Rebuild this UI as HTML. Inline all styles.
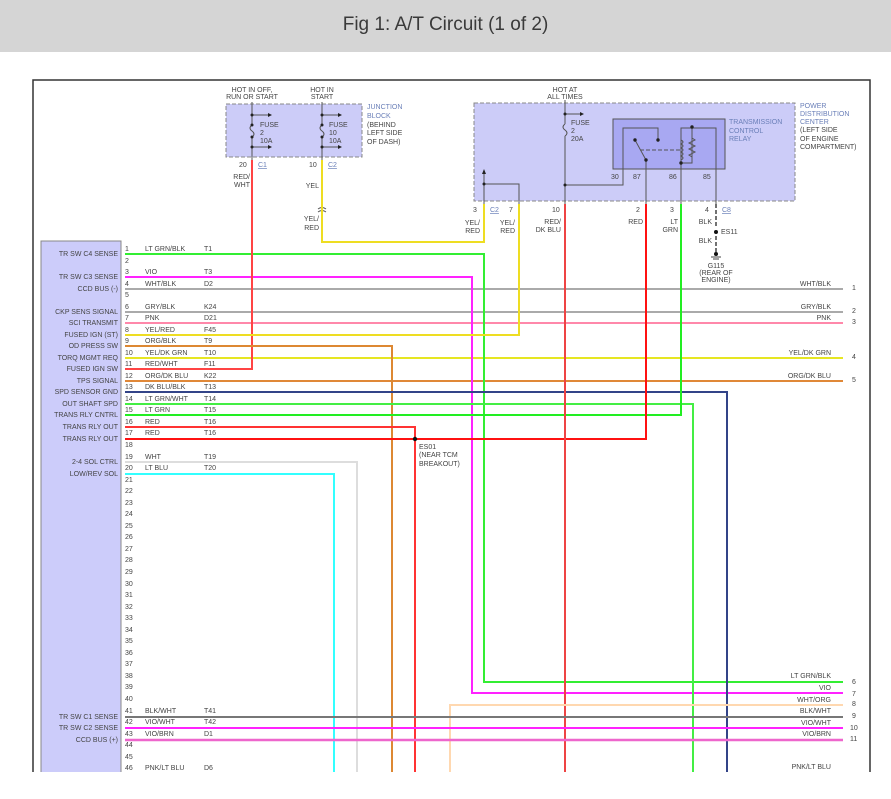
<!DOCTYPE html>
<html><head><meta charset="utf-8"><style>
body{margin:0;background:#fff;width:891px;height:799px;overflow:hidden;font-family:"Liberation Sans",sans-serif}
.hd{position:absolute;left:0;top:0;width:891px;height:52px;background:#d5d5d5;text-align:center;line-height:50px;font-size:19px;color:#3a3a3a}
svg{position:absolute;left:0;top:0}
text{font-family:"Liberation Sans",sans-serif;font-size:7px;fill:#444}
.b{fill:#6a7fb8}
</style></head><body>
<div class="hd">Fig 1: A/T Circuit (1 of 2)</div>
<svg width="891" height="799" viewBox="0 0 891 799">
<path d="M33,772 V80 H870 V772" fill="none" stroke="#333" stroke-width="1.5"/>
<rect x="226" y="104" width="136" height="53" fill="#ccccf8" stroke="#888" stroke-dasharray="4,2"/>
<g stroke="#555" fill="none">
<path d="M252,102 V125 M252,137 V160 M252,125 q-4,3 0,6 q4,3 0,6"/>
<path d="M322,102 V125 M322,137 V160 M322,125 q-4,3 0,6 q4,3 0,6"/>
<path d="M252,115 H268 M252,147 H268 M322,115 H338 M322,147 H338"/>
</g>
<g fill="#222"><path d="M268,113 l4,2 l-4,2z M268,145 l4,2 l-4,2z M338,113 l4,2 l-4,2z M338,145 l4,2 l-4,2z"/>
<circle cx="252" cy="115" r="1.5"/><circle cx="252" cy="125" r="1.5"/><circle cx="252" cy="137" r="1.5"/><circle cx="252" cy="147" r="1.5"/>
<circle cx="322" cy="115" r="1.5"/><circle cx="322" cy="125" r="1.5"/><circle cx="322" cy="137" r="1.5"/><circle cx="322" cy="147" r="1.5"/></g>
<text x="260" y="127">FUSE</text><text x="260" y="135">2</text><text x="260" y="143">10A</text>
<text x="329" y="127">FUSE</text><text x="329" y="135">10</text><text x="329" y="143">10A</text>
<text x="252" y="92" text-anchor="middle">HOT IN OFF,</text><text x="252" y="99" text-anchor="middle">RUN OR START</text>
<text x="322" y="92" text-anchor="middle">HOT IN</text><text x="322" y="99" text-anchor="middle">START</text>
<text class="b" x="367" y="109">JUNCTION</text><text class="b" x="367" y="118">BLOCK</text>
<text x="367" y="127">(BEHIND</text><text x="367" y="135">LEFT SIDE</text><text x="367" y="144">OF DASH)</text>
<text x="239" y="167">20</text><text class="b" x="258" y="167" text-decoration="underline">C1</text>
<text x="309" y="167">10</text><text class="b" x="328" y="167" text-decoration="underline">C2</text>
<text x="250" y="179" text-anchor="end">RED/</text><text x="250" y="187" text-anchor="end">WHT</text>
<text x="319" y="188" text-anchor="end">YEL</text>
<text x="319" y="221" text-anchor="end">YEL/</text><text x="319" y="230" text-anchor="end">RED</text>
<path d="M318,209 q4,-3 8,0 M318,212 q4,-3 8,0" stroke="#555" fill="none"/>
<rect x="474" y="103" width="321" height="98" fill="#ccccf8" stroke="#888" stroke-dasharray="4,2"/>
<text x="565" y="92" text-anchor="middle">HOT AT</text><text x="565" y="99" text-anchor="middle">ALL TIMES</text>
<g stroke="#555" fill="none">
<path d="M565,100 V124 M565,136 V204 M565,124 q-4,3 0,6 q4,3 0,6 M565,114 H580"/>
<path d="M565,185 H623 V169 M484,204 V172 M484,184 H519 V204 M646,169 V204 M681,169 V204 M716,169 V204"/>
</g>
<g fill="#222"><path d="M580,112 l4,2 l-4,2z M482,174 l2,-5 l2,5z"/><circle cx="565" cy="114" r="1.5"/><circle cx="565" cy="185" r="1.5"/><circle cx="484" cy="184" r="1.5"/></g>
<text x="571" y="125">FUSE</text><text x="571" y="133">2</text><text x="571" y="141">20A</text>
<rect x="613" y="119" width="112" height="50" fill="#a8a8f2" stroke="#555"/>
<g stroke="#555" fill="none">
<path d="M623,169 V128 H658 V140 M635,140 L646,160 V169" />
<path d="M640,150 H681" stroke-dasharray="4,2"/>
<path d="M681,169 V128 H716 V169 M681,140 q4,2 0,4 q4,2 0,4 q4,2 0,4 q4,2 0,4 q4,2 0,4 M692,126 V163 H681 M692,138 l3,2 l-6,3 l6,3 l-6,3 l6,3 l-6,3 l3,2"/>
</g>
<g fill="#222"><circle cx="658" cy="140" r="1.7"/><circle cx="635" cy="140" r="1.7"/><circle cx="646" cy="160" r="1.7"/><circle cx="692" cy="127" r="1.7"/><circle cx="681" cy="163" r="1.7"/></g>
<text x="611" y="179">30</text><text x="633" y="179">87</text><text x="669" y="179">86</text><text x="703" y="179">85</text>
<text class="b" x="729" y="124">TRANSMISSION</text><text class="b" x="729" y="133">CONTROL</text><text class="b" x="729" y="141">RELAY</text>
<text class="b" x="800" y="108">POWER</text><text class="b" x="800" y="116">DISTRIBUTION</text><text class="b" x="800" y="124">CENTER</text>
<text x="800" y="132">(LEFT SIDE</text><text x="800" y="141">OF ENGINE</text><text x="800" y="149">COMPARTMENT)</text>
<text x="473" y="212">3</text><text class="b" x="490" y="212" text-decoration="underline">C2</text>
<text x="509" y="212">7</text><text x="552" y="212">10</text><text x="636" y="212">2</text><text x="670" y="212">3</text>
<text x="705" y="212">4</text><text class="b" x="722" y="212" text-decoration="underline">C8</text>
<text x="480" y="225" text-anchor="end">YEL/</text><text x="480" y="233" text-anchor="end">RED</text>
<text x="515" y="225" text-anchor="end">YEL/</text><text x="515" y="233" text-anchor="end">RED</text>
<text x="561" y="224" text-anchor="end">RED/</text><text x="561" y="232" text-anchor="end">DK BLU</text>
<text x="643" y="224" text-anchor="end">RED</text>
<text x="678" y="224" text-anchor="end">LT</text><text x="678" y="232" text-anchor="end">GRN</text>
<text x="712" y="224" text-anchor="end">BLK</text>
<text x="721" y="234">ES11</text>
<text x="712" y="243" text-anchor="end">BLK</text>
<path d="M716,204 V228 M716,236 V252" stroke="#444" stroke-width="1.5" stroke-dasharray="4,2"/>
<circle cx="716" cy="232" r="2" fill="#111"/>
<circle cx="716" cy="254" r="2" fill="#111"/><path d="M711,257 H721 M713,259 H719" stroke="#444"/>
<text x="716" y="268" text-anchor="middle">G115</text><text x="716" y="275" text-anchor="middle">(REAR OF</text><text x="716" y="282" text-anchor="middle">ENGINE)</text>
<path d="M121,772 V241 H41 V772" fill="#ccccfa" stroke="#888"/>
<g fill="none" stroke-width="2">
<path d="M125,289 H843 M125,312 H843" stroke="#aaa"/>
<path d="M125,323 H843" stroke="#ff88aa"/>
<path d="M125,358 H843" stroke="#e6e622"/>
<path d="M125,381 H843" stroke="#e08838"/>
<path d="M125,254 H484 V682 H843" stroke="#33ee33"/>
<path d="M125,277 H472 V693 H843" stroke="#ff22ff"/>
<path d="M252,160 V369 H125" stroke="#ff4444"/>
<path d="M322,160 V242 H484 V204" stroke="#eedd22"/>
<path d="M519,204 V335 H125" stroke="#eedd22"/>
<path d="M125,346 H392 V772" stroke="#dd8833"/>
<path d="M125,392 H727 V772" stroke="#334488"/>
<path d="M125,404 H693 V772" stroke="#44ee44"/>
<path d="M125,415 H681 V204" stroke="#22ee22"/>
<path d="M125,427 H415 V772" stroke="#ff3333"/>
<path d="M125,439 H646 V204" stroke="#ff1111"/>
<path d="M125,462 H357 V772" stroke="#ddd"/>
<path d="M125,474 H334 V772" stroke="#33ffff"/>
<path d="M565,204 V772" stroke="#ee4444"/>
<path d="M843,705 H450 V772" stroke="#ffd8b0"/>
<path d="M125,717 H843" stroke="#777"/>
<path d="M125,728 H843" stroke="#ff22ff"/>
<path d="M125,740 H843" stroke="#ee66cc" stroke-width="2.5"/>
</g>
<circle cx="415" cy="439" r="2.2" fill="#111"/>
<text x="419" y="449">ES01</text><text x="419" y="457">(NEAR TCM</text><text x="419" y="466">BREAKOUT)</text>
<g>
<text x="125" y="251">1</text><text x="125" y="263">2</text><text x="125" y="274">3</text><text x="125" y="286">4</text><text x="125" y="297">5</text><text x="125" y="309">6</text><text x="125" y="320">7</text><text x="125" y="332">8</text><text x="125" y="343">9</text><text x="125" y="355">10</text><text x="125" y="366">11</text><text x="125" y="378">12</text><text x="125" y="389">13</text><text x="125" y="401">14</text><text x="125" y="412">15</text><text x="125" y="424">16</text><text x="125" y="435">17</text><text x="125" y="447">18</text><text x="125" y="459">19</text><text x="125" y="470">20</text><text x="125" y="482">21</text><text x="125" y="493">22</text><text x="125" y="505">23</text><text x="125" y="516">24</text><text x="125" y="528">25</text><text x="125" y="539">26</text><text x="125" y="551">27</text><text x="125" y="562">28</text><text x="125" y="574">29</text><text x="125" y="586">30</text><text x="125" y="597">31</text><text x="125" y="609">32</text><text x="125" y="620">33</text><text x="125" y="632">34</text><text x="125" y="643">35</text><text x="125" y="655">36</text><text x="125" y="666">37</text><text x="125" y="678">38</text><text x="125" y="689">39</text><text x="125" y="701">40</text><text x="125" y="713">41</text><text x="125" y="724">42</text><text x="125" y="736">43</text><text x="125" y="747">44</text><text x="125" y="759">45</text><text x="125" y="770">46</text>
</g>
<g>
<text x="145" y="251">LT GRN/BLK</text><text x="204" y="251">T1</text>
<text x="145" y="274">VIO</text><text x="204" y="274">T3</text>
<text x="145" y="286">WHT/BLK</text><text x="204" y="286">D2</text>
<text x="145" y="309">GRY/BLK</text><text x="204" y="309">K24</text>
<text x="145" y="320">PNK</text><text x="204" y="320">D21</text>
<text x="145" y="332">YEL/RED</text><text x="204" y="332">F45</text>
<text x="145" y="343">ORG/BLK</text><text x="204" y="343">T9</text>
<text x="145" y="355">YEL/DK GRN</text><text x="204" y="355">T10</text>
<text x="145" y="366">RED/WHT</text><text x="204" y="366">F11</text>
<text x="145" y="378">ORG/DK BLU</text><text x="204" y="378">K22</text>
<text x="145" y="389">DK BLU/BLK</text><text x="204" y="389">T13</text>
<text x="145" y="401">LT GRN/WHT</text><text x="204" y="401">T14</text>
<text x="145" y="412">LT GRN</text><text x="204" y="412">T15</text>
<text x="145" y="424">RED</text><text x="204" y="424">T16</text>
<text x="145" y="435">RED</text><text x="204" y="435">T16</text>
<text x="145" y="459">WHT</text><text x="204" y="459">T19</text>
<text x="145" y="470">LT BLU</text><text x="204" y="470">T20</text>
<text x="145" y="713">BLK/WHT</text><text x="204" y="713">T41</text>
<text x="145" y="724">VIO/WHT</text><text x="204" y="724">T42</text>
<text x="145" y="736">VIO/BRN</text><text x="204" y="736">D1</text>
<text x="145" y="770">PNK/LT BLU</text><text x="204" y="770">D6</text>
</g>
<g text-anchor="end">
<text x="118" y="256">TR SW C4 SENSE</text><text x="118" y="279">TR SW C3 SENSE</text><text x="118" y="291">CCD BUS (-)</text>
<text x="118" y="314">CKP SENS SIGNAL</text><text x="118" y="325">SCI TRANSMIT</text><text x="118" y="337">FUSED IGN (ST)</text>
<text x="118" y="348">OD PRESS SW</text><text x="118" y="360">TORQ MGMT REQ</text><text x="118" y="371">FUSED IGN SW</text>
<text x="118" y="383">TPS SIGNAL</text><text x="118" y="394">SPD SENSOR GND</text><text x="118" y="406">OUT SHAFT SPD</text>
<text x="118" y="417">TRANS RLY CNTRL</text><text x="118" y="429">TRANS RLY OUT</text><text x="118" y="441">TRANS RLY OUT</text>
<text x="118" y="464">2-4 SOL CTRL</text><text x="118" y="476">LOW/REV SOL</text>
<text x="118" y="719">TR SW C1 SENSE</text><text x="118" y="730">TR SW C2 SENSE</text><text x="118" y="742">CCD BUS (+)</text>
<text x="831" y="286">WHT/BLK</text><text x="831" y="309">GRY/BLK</text><text x="831" y="320">PNK</text>
<text x="831" y="355">YEL/DK GRN</text><text x="831" y="378">ORG/DK BLU</text>
<text x="831" y="678">LT GRN/BLK</text><text x="831" y="690">VIO</text><text x="831" y="702">WHT/ORG</text>
<text x="831" y="713">BLK/WHT</text><text x="831" y="725">VIO/WHT</text><text x="831" y="736">VIO/BRN</text><text x="831" y="769">PNK/LT BLU</text>
</g>
<g>
<text x="852" y="290">1</text><text x="852" y="313">2</text><text x="852" y="324">3</text><text x="852" y="359">4</text><text x="852" y="382">5</text>
<text x="852" y="684">6</text><text x="852" y="696">7</text><text x="852" y="706">8</text><text x="852" y="718">9</text><text x="850" y="730">10</text><text x="850" y="741">11</text>
</g>
</svg>
</body></html>
